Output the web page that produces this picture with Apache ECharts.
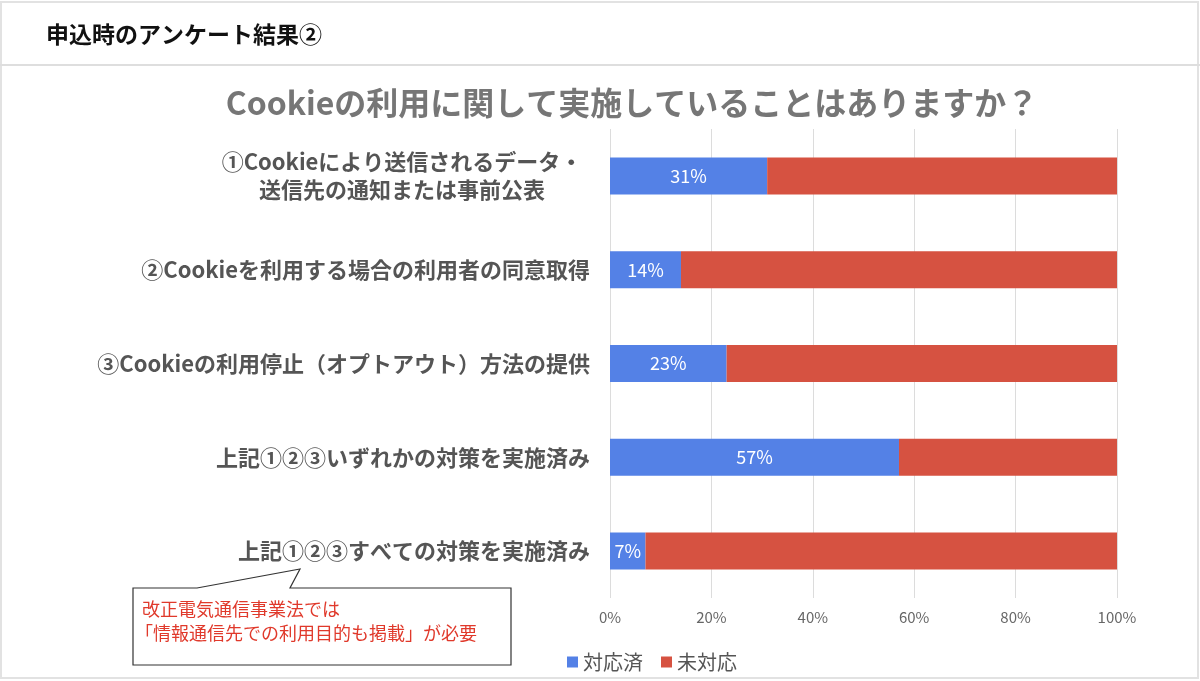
<!DOCTYPE html>
<html>
<head>
<meta charset="utf-8">
<script src="https://cdn.jsdelivr.net/npm/echarts@6/dist/echarts.min.js"></script>
<style>
  html, body { margin: 0; padding: 0; background: #fff; }
  #main { width: 1200px; height: 681px; }
</style>
</head>
<body>
<div id="main"></div>
<script type="text/javascript">
    // データ
    var categories = [
        '①Cookieにより送信されるデータ・\n送信先の通知または事前公表',
        '②Cookieを利用する場合の利用者の同意取得',
        '③Cookieの利用停止（オプトアウト）方法の提供',
        '上記①②③いずれかの対策を実施済み',
        '上記①②③すべての対策を実施済み'
    ];
    var doneValues = [31, 14, 23, 57, 7];
    var notDoneValues = [69, 86, 77, 43, 93];
    var seriesNames = ['対応済', '未対応'];
    var noteLines = ['改正電気通信事業法では', '「情報通信先での利用目的も掲載」が必要'];

    var FONT = '"Noto Sans CJK JP", "Noto Sans", sans-serif';
    var myChart = echarts.init(document.getElementById('main'));

    var option = {
        animation: false,
        textStyle: { fontFamily: FONT },
        title: {
            text: 'Cookieの利用に関して実施していることはありますか？',
            left: 627,
            textAlign: 'center',
            top: 82,
            textStyle: { fontSize: 32, fontWeight: 'bold', color: '#767676', fontFamily: FONT }
        },
        legend: {
            data: seriesNames,
            left: 562,
            top: 647,
            icon: 'rect',
            itemWidth: 11,
            itemHeight: 11,
            itemGap: 18,
            textStyle: { fontSize: 20, color: '#555', fontFamily: FONT }
        },
        grid: { left: 610, right: 83, top: 129, bottom: 83, containLabel: false },
        xAxis: {
            type: 'value',
            min: 0,
            max: 100,
            interval: 20,
            axisLine: { show: false },
            axisTick: { show: false },
            splitLine: { lineStyle: { color: '#dcdcdc' } },
            axisLabel: {
                formatter: '{value}%',
                color: '#666',
                fontSize: 15,
                margin: 12,
                fontFamily: FONT
            }
        },
        yAxis: {
            type: 'category',
            inverse: true,
            data: categories,
            axisLine: { show: false },
            axisTick: { show: false },
            axisLabel: {
                color: '#555',
                fontSize: 22,
                fontWeight: 'bold',
                margin: 20,
                fontFamily: FONT,
                formatter: function (value) {
                    var lines = value.split('\n');
                    if (lines.length > 1) {
                        return lines.map(function (l) { return '{c|' + l + '}'; }).join('\n');
                    }
                    return value;
                },
                rich: {
                    c: {
                        width: 376,
                        align: 'center',
                        lineHeight: 28,
                        fontSize: 22,
                        fontWeight: 'bold',
                        color: '#555',
                        fontFamily: FONT
                    }
                }
            }
        },
        series: [
            {
                name: seriesNames[0],
                type: 'bar',
                stack: 'total',
                barWidth: 37,
                data: doneValues,
                itemStyle: { color: '#5481e6' },
                label: {
                    show: true,
                    position: 'inside',
                    formatter: '{c}%',
                    color: '#fff',
                    fontSize: 18,
                    fontFamily: FONT
                }
            },
            {
                name: seriesNames[1],
                type: 'bar',
                stack: 'total',
                barWidth: 37,
                data: notDoneValues,
                itemStyle: { color: '#d65241' }
            }
        ],
        graphic: [
            // 外枠
            { type: 'rect', shape: { x: 1, y: 2, width: 1197, height: 676 }, style: { fill: 'none', stroke: '#e2e2e2', lineWidth: 2 }, silent: true },
            { type: 'line', shape: { x1: 0, y1: 65, x2: 1200, y2: 65 }, style: { stroke: '#dedede', lineWidth: 2 }, silent: true },
            {
                type: 'text', left: 46, top: 23,
                style: { text: '申込時のアンケート結果②', fontSize: 23, fontWeight: 'bold', fontFamily: FONT, fill: '#111' }
            },
            // 吹き出し
            {
                type: 'polygon',
                shape: { points: [[133, 588], [197, 588], [300, 569], [290, 588], [511, 588], [511, 665], [133, 665]] },
                style: { fill: '#fff', stroke: '#333', lineWidth: 1.2 },
                z: 10
            },
            {
                type: 'text', left: 142, top: 600, z: 11,
                style: { text: noteLines[0], fill: '#e0392b', fontSize: 18, fontFamily: FONT }
            },
            {
                type: 'text', left: 135, top: 624, z: 11,
                style: { text: noteLines[1], fill: '#e0392b', fontSize: 18, fontFamily: FONT }
            }
        ]
    };

    myChart.setOption(option);
</script>
</body>
</html>
